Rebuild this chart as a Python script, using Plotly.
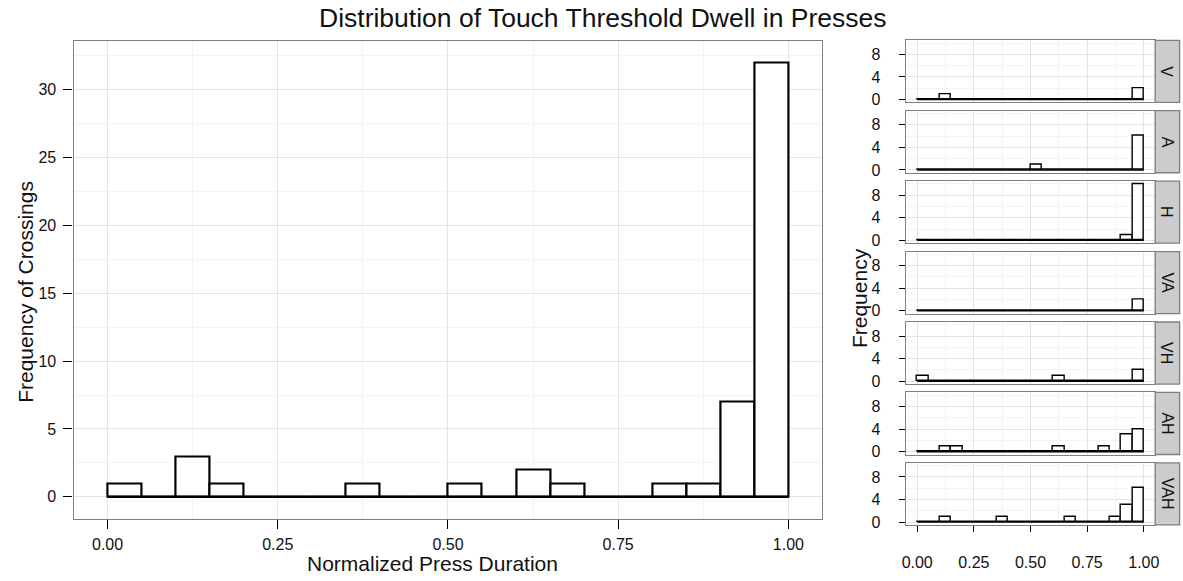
import plotly.graph_objects as go

# Histogram bins (left edges) and counts of threshold crossings
bin_left = [0.00, 0.05, 0.10, 0.15, 0.20, 0.25, 0.30, 0.35, 0.40, 0.45,
            0.50, 0.55, 0.60, 0.65, 0.70, 0.75, 0.80, 0.85, 0.90, 0.95]
bin_width = 0.05

counts_all = [1, 0, 3, 1, 0, 0, 0, 1, 0, 0, 1, 0, 2, 1, 0, 0, 1, 1, 7, 32]

# Per-condition counts
conditions = ["V", "A", "H", "VA", "VH", "AH", "VAH"]
counts_V = [0, 0, 1, 0, 0, 0, 0, 0, 0, 0, 0, 0, 0, 0, 0, 0, 0, 0, 0, 2]
counts_A = [0, 0, 0, 0, 0, 0, 0, 0, 0, 0, 1, 0, 0, 0, 0, 0, 0, 0, 0, 6]
counts_H = [0, 0, 0, 0, 0, 0, 0, 0, 0, 0, 0, 0, 0, 0, 0, 0, 0, 0, 1, 10]
counts_VA = [0, 0, 0, 0, 0, 0, 0, 0, 0, 0, 0, 0, 0, 0, 0, 0, 0, 0, 0, 2]
counts_VH = [1, 0, 0, 0, 0, 0, 0, 0, 0, 0, 0, 0, 1, 0, 0, 0, 0, 0, 0, 2]
counts_AH = [0, 0, 1, 1, 0, 0, 0, 0, 0, 0, 0, 0, 1, 0, 0, 0, 1, 0, 3, 4]
counts_VAH = [0, 0, 1, 0, 0, 0, 0, 1, 0, 0, 0, 0, 0, 1, 0, 0, 0, 1, 3, 6]
facet_counts = [counts_V, counts_A, counts_H, counts_VA, counts_VH, counts_AH, counts_VAH]

x_ticks = [0.0, 0.25, 0.5, 0.75, 1.0]
x_ticktext = ["0.00", "0.25", "0.50", "0.75", "1.00"]
x_minor = [0.125, 0.375, 0.625, 0.875]
main_y_ticks = [0, 5, 10, 15, 20, 25, 30]
main_y_minor = [2.5, 7.5, 12.5, 17.5, 22.5, 27.5, 32.5]
facet_y_ticks = [0, 4, 8]
facet_y_minor = [2, 6, 10]

W, H = 1183, 581
FONT = "Liberation Sans, Arial, Helvetica, sans-serif"
TXT = "#111111"
BORDER = "#7F7F7F"
GRID = "#E4E4E4"
GRID_MINOR = "#F4F4F4"

bin_centers = [b + bin_width / 2 for b in bin_left]


def px_x(p):
    return p / W


def px_y(p):
    return 1 - p / H


fig = go.Figure()

# ---- main histogram ----
fig.add_trace(go.Scatter(
    x=[bin_left[0], bin_left[-1] + bin_width], y=[0, 0], mode="lines",
    line=dict(color="black", width=2.2), hoverinfo="skip", showlegend=False,
    xaxis="x", yaxis="y"))
fig.add_trace(go.Bar(
    x=bin_centers, y=counts_all, width=bin_width,
    marker=dict(color="white", line=dict(color="black", width=2.2)),
    showlegend=False, xaxis="x", yaxis="y"))

axis_common = dict(
    showline=True, linecolor=BORDER, linewidth=1.3, mirror=True,
    ticks="outside", tickcolor="black", tickwidth=1.2,
    showgrid=True, gridcolor=GRID, gridwidth=1.4, zeroline=False,
    tickfont=dict(family=FONT, size=16, color=TXT),
)

layout = dict(
    width=W, height=H, margin=dict(l=0, r=0, t=0, b=0),
    paper_bgcolor="white", plot_bgcolor="white", bargap=0,
    showlegend=False,
    xaxis=dict(axis_common, domain=[px_x(70), px_x(824)], range=[-0.05, 1.05],
               tickmode="array", tickvals=x_ticks, ticktext=x_ticktext,
               ticklen=9, anchor="y", ticklabelstandoff=2,
               minor=dict(tickvals=x_minor, showgrid=True, gridcolor=GRID_MINOR,
                          gridwidth=1, ticks="")),
    yaxis=dict(axis_common, domain=[px_y(524), px_y(41)], range=[-1.6, 33.6],
               tickmode="array", tickvals=main_y_ticks, ticklen=9, anchor="x",
               ticklabelstandoff=4,
               minor=dict(tickvals=main_y_minor, showgrid=True, gridcolor=GRID_MINOR,
                          gridwidth=1, ticks="")),
)

# ---- faceted histograms by condition ----
panel_top0 = 40.7
panel_pitch = 71.17
panel_h = 62.7
facet_left, facet_right = 908, 1159
shapes = []
annotations = []

for i, (cond, counts) in enumerate(zip(conditions, facet_counts)):
    n = i + 2
    xa, ya = f"x{n}", f"y{n}"
    top = panel_top0 + i * panel_pitch
    bottom = top + panel_h
    last = i == len(conditions) - 1

    fig.add_trace(go.Scatter(
        x=[bin_left[0], bin_left[-1] + bin_width], y=[0, 0], mode="lines",
        line=dict(color="black", width=1.4), hoverinfo="skip", showlegend=False,
        xaxis=xa, yaxis=ya))
    fig.add_trace(go.Bar(
        x=bin_centers, y=counts, width=bin_width,
        marker=dict(color="white", line=dict(color="black", width=1.4)),
        showlegend=False, xaxis=xa, yaxis=ya))

    layout[f"xaxis{n}"] = dict(
        axis_common, domain=[px_x(facet_left), px_x(facet_right)],
        range=[-0.05, 1.05], anchor=ya,
        tickmode="array", tickvals=x_ticks, ticktext=x_ticktext,
        showticklabels=last, ticks="outside" if last else "", ticklen=6,
        ticklabelstandoff=17,
        minor=dict(tickvals=x_minor, showgrid=True, gridcolor=GRID_MINOR,
                   gridwidth=1, ticks=""))
    layout[f"yaxis{n}"] = dict(
        axis_common, domain=[px_y(bottom), px_y(top)], range=[-0.5, 10.5],
        anchor=xa, tickmode="array", tickvals=facet_y_ticks, ticklen=6,
        ticklabelstandoff=15,
        minor=dict(tickvals=facet_y_minor, showgrid=True, gridcolor=GRID_MINOR,
                   gridwidth=1, ticks=""))

    # strip on the right of each panel
    shapes.append(dict(
        type="rect", xref="paper", yref="paper",
        x0=px_x(facet_right), x1=px_x(W + 0.6), y0=px_y(bottom), y1=px_y(top),
        fillcolor="#CCCCCC", line=dict(color=BORDER, width=1.3), layer="above"))
    annotations.append(dict(
        text=cond, xref="paper", yref="paper",
        x=px_x((facet_right + W) / 2), y=px_y((top + bottom) / 2),
        showarrow=False, textangle=90, xanchor="center", yanchor="middle",
        font=dict(family=FONT, size=16, color=TXT)))

# titles
annotations += [
    dict(text="Distribution of Touch Threshold Dwell in Presses",
         xref="paper", yref="paper", x=px_x(603), y=px_y(18.5),
         showarrow=False, xanchor="center", yanchor="middle",
         font=dict(family=FONT, size=26.5, color=TXT)),
    dict(text="Normalized Press Duration", xref="paper", yref="paper",
         x=px_x(431), y=px_y(569), showarrow=False,
         xanchor="center", yanchor="middle",
         font=dict(family=FONT, size=21, color=TXT)),
    dict(text="Frequency of Crossings", xref="paper", yref="paper",
         x=px_x(22), y=px_y(295), showarrow=False, textangle=-90,
         xanchor="center", yanchor="middle",
         font=dict(family=FONT, size=21, color=TXT)),
    dict(text="Frequency", xref="paper", yref="paper",
         x=px_x(862), y=px_y(301), showarrow=False, textangle=-90,
         xanchor="center", yanchor="middle",
         font=dict(family=FONT, size=21, color=TXT)),
]

layout["shapes"] = shapes
layout["annotations"] = annotations
fig.update_layout(layout)

fig.write_html("out.html")
